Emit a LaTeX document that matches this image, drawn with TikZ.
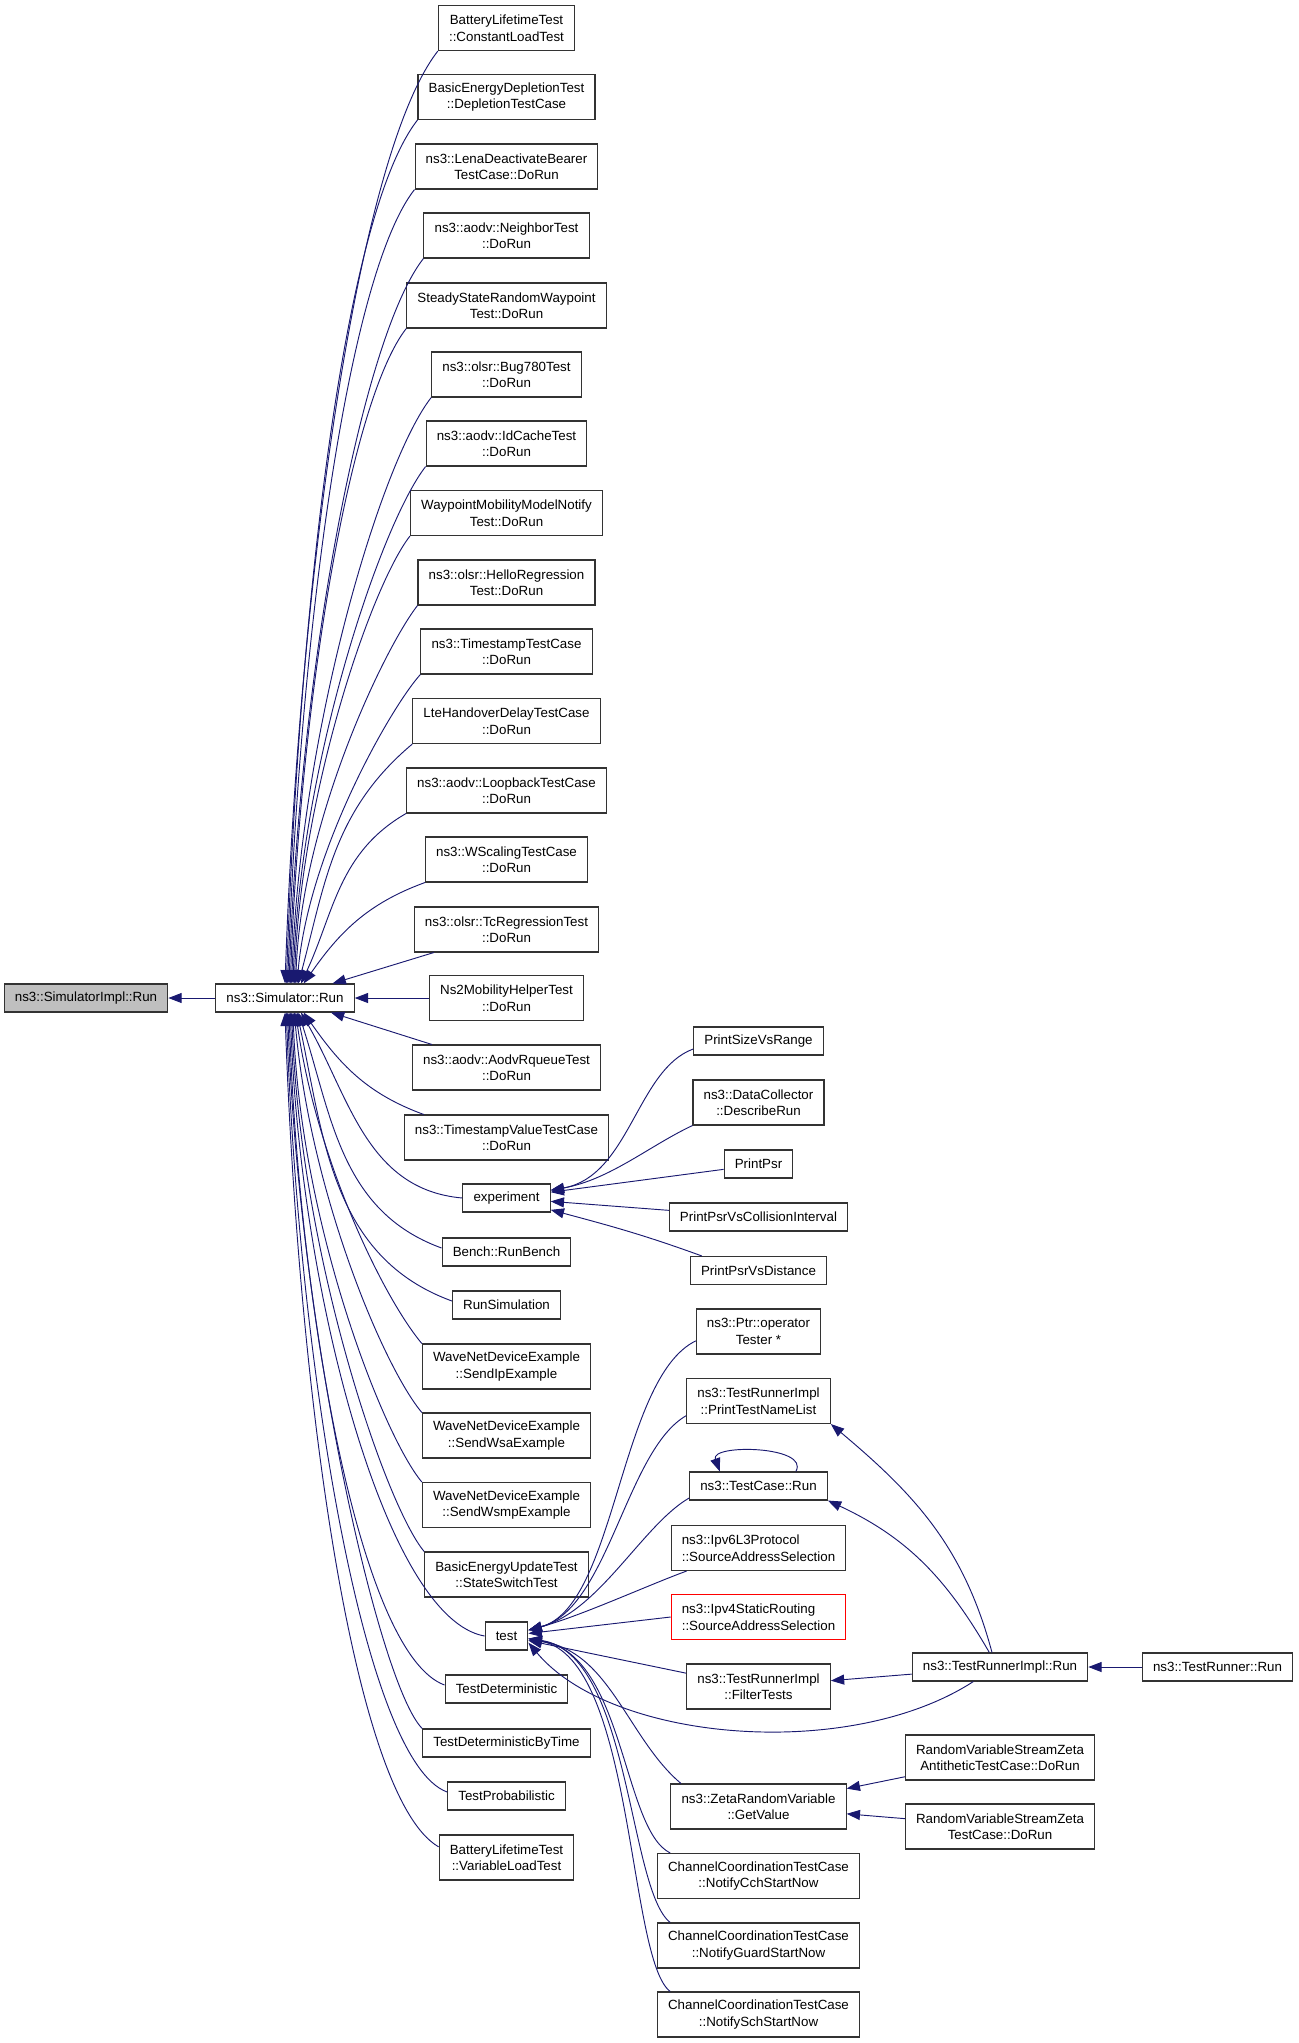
\documentclass[tikz,border=0pt]{standalone}
\usepackage{fontspec}
\setmainfont{Liberation Sans}
\usepackage{xcolor}
\usepackage{tikz}
\usetikzlibrary{arrows.meta}

\definecolor{edgeblue}{HTML}{191970}
\definecolor{focusgray}{HTML}{BFBFBF}

\begin{document}
\begin{tikzpicture}[x=0.75pt, y=0.75pt,
		fn/.style={draw=black!80, line width=0.8pt, rectangle, inner xsep=8pt, inner ysep=0pt, minimum height=21pt, font=\fontsize{10pt}{12.4pt}\selectfont, align=center},
		fntwo/.style={fn, minimum height=33.75pt},
		fnleft/.style={fntwo, align=left},
		calls/.style={draw=edgeblue, line width=0.7pt, {Triangle[length=10pt,width=7.5pt]}-}
		]
		\useasboundingbox (0,0) rectangle (1299,-2043);
		
		\node[fn, fill=focusgray] (simpl) at (86,-998) {ns3::SimulatorImpl::Run};
		\node[fn] (sr) at (285,-998) {ns3::Simulator::Run};
		
		\node[fntwo] (ct) at (506.5,-28) {BatteryLifetimeTest\\::ConstantLoadTest};
		\node[fntwo] (dep) at (506.5,-97) {BasicEnergyDepletionTest\\::DepletionTestCase};
		\node[fntwo] (lena) at (506.5,-166.5) {ns3::LenaDeactivateBearer\\TestCase::DoRun};
		\node[fntwo] (nbr) at (506.5,-235.5) {ns3::aodv::NeighborTest\\::DoRun};
		\node[fntwo] (ssrw) at (506.5,-305.5) {SteadyStateRandomWaypoint\\Test::DoRun};
		\node[fntwo] (bug) at (506.5,-374.5) {ns3::olsr::Bug780Test\\::DoRun};
		\node[fntwo] (idc) at (506.5,-443.5) {ns3::aodv::IdCacheTest\\::DoRun};
		\node[fntwo] (wmm) at (506.5,-513) {WaypointMobilityModelNotify\\Test::DoRun};
		\node[fntwo] (hello) at (506.5,-582.5) {ns3::olsr::HelloRegression\\Test::DoRun};
		\node[fntwo] (tstc) at (506.5,-651.5) {ns3::TimestampTestCase\\::DoRun};
		\node[fntwo] (lte) at (506.5,-721) {LteHandoverDelayTestCase\\::DoRun};
		\node[fntwo] (loop) at (506.5,-790.5) {ns3::aodv::LoopbackTestCase\\::DoRun};
		\node[fntwo] (wsc) at (506.5,-859.5) {ns3::WScalingTestCase\\::DoRun};
		\node[fntwo] (tcrt) at (506.5,-929.5) {ns3::olsr::TcRegressionTest\\::DoRun};
		\node[fntwo] (ns2) at (506.5,-998) {Ns2MobilityHelperTest\\::DoRun};
		\node[fntwo] (rq) at (506.5,-1067.5) {ns3::aodv::AodvRqueueTest\\::DoRun};
		\node[fntwo] (tsv) at (506.5,-1137.5) {ns3::TimestampValueTestCase\\::DoRun};
		\node[fn] (exp) at (506.5,-1198) {experiment};
		\node[fn] (bench) at (506.5,-1252) {Bench::RunBench};
		\node[fn] (runsim) at (506.5,-1305) {RunSimulation};
		\node[fntwo] (sendip) at (506.5,-1366.5) {WaveNetDeviceExample\\::SendIpExample};
		\node[fntwo] (sendwsa) at (506.5,-1435.5) {WaveNetDeviceExample\\::SendWsaExample};
		\node[fntwo] (sendwsmp) at (506.5,-1505) {WaveNetDeviceExample\\::SendWsmpExample};
		\node[fntwo] (ssw) at (506.5,-1574.5) {BasicEnergyUpdateTest\\::StateSwitchTest};
		\node[fn] (test) at (506.5,-1636) {test};
		\node[fn] (tdet) at (506.5,-1689) {TestDeterministic};
		\node[fn] (tdbt) at (506.5,-1743) {TestDeterministicByTime};
		\node[fn] (tprob) at (506.5,-1796) {TestProbabilistic};
		\node[fntwo] (vlt) at (506.5,-1857.5) {BatteryLifetimeTest\\::VariableLoadTest};
		
		\node[fn] (psvr) at (758.5,-1041) {PrintSizeVsRange};
		\node[fntwo] (dcr) at (758.5,-1102.5) {ns3::DataCollector\\::DescribeRun};
		\node[fn] (ppsr) at (758.5,-1164) {PrintPsr};
		\node[fn] (pci) at (758.5,-1217) {PrintPsrVsCollisionInterval};
		\node[fn] (pdist) at (758.5,-1270.5) {PrintPsrVsDistance};
		\node[fntwo] (ptr) at (758.5,-1331.5) {ns3::Ptr::operator\\Tester *};
		\node[fntwo] (ptnl) at (758.5,-1401) {ns3::TestRunnerImpl\\::PrintTestNameList};
		\node[fn] (tcase) at (758.5,-1486) {ns3::TestCase::Run};
		\node[fnleft] (ipsix) at (758.5,-1548) {ns3::Ipv6L3Protocol\\::SourceAddressSelection};
		\node[fnleft, draw=red] (ipfour) at (758.5,-1617) {ns3::Ipv4StaticRouting\\::SourceAddressSelection};
		\node[fntwo] (filt) at (758.5,-1686.5) {ns3::TestRunnerImpl\\::FilterTests};
		\node[fntwo] (zeta) at (758.5,-1806.5) {ns3::ZetaRandomVariable\\::GetValue};
		\node[fntwo] (cch) at (758.5,-1876) {ChannelCoordinationTestCase\\::NotifyCchStartNow};
		\node[fntwo] (guard) at (758.5,-1945.5) {ChannelCoordinationTestCase\\::NotifyGuardStartNow};
		\node[fntwo] (sch) at (758.5,-2014.5) {ChannelCoordinationTestCase\\::NotifySchStartNow};
		
		\node[fn] (trir) at (1000,-1667) {ns3::TestRunnerImpl::Run};
		\node[fntwo] (zanti) at (1000,-1757.5) {RandomVariableStreamZeta\\AntitheticTestCase::DoRun};
		\node[fntwo] (ztc) at (1000,-1826.5) {RandomVariableStreamZeta\\TestCase::DoRun};
		\node[fn] (trr) at (1217.5,-1667) {ns3::TestRunner::Run};
		
		\draw[calls] (simpl) -- (sr);
		
		\draw[calls] (sr.north) to[out=88, in=232, out distance=301pt, in distance=98pt] (ct.south west);
		\draw[calls] ([xshift=1pt]sr.north) to[out=88, in=232, out distance=279pt, in distance=91pt] (dep.south west);
		\draw[calls] ([xshift=2pt]sr.north) to[out=88, in=232, out distance=256pt, in distance=83pt] (lena.south west);
		\draw[calls] ([xshift=3pt]sr.north) to[out=88, in=232, out distance=234pt, in distance=76pt] (nbr.south west);
		\draw[calls] ([xshift=4pt]sr.north) to[out=88, in=232, out distance=212pt, in distance=69pt] (ssrw.south west);
		\draw[calls] ([xshift=5pt]sr.north) to[out=88, in=232, out distance=189pt, in distance=62pt] (bug.south west);
		\draw[calls] ([xshift=6pt]sr.north) to[out=88, in=232, out distance=167pt, in distance=54pt] (idc.south west);
		\draw[calls] ([xshift=7pt]sr.north) to[out=88, in=232, out distance=144pt, in distance=47pt] (wmm.south west);
		\draw[calls] ([xshift=8pt]sr.north) to[out=88, in=232, out distance=122pt, in distance=40pt] (hello.south west);
		\draw[calls] ([xshift=9pt]sr.north) to[out=85, in=228, out distance=100pt, in distance=33pt] (tstc.south west);
		\draw[calls] ([xshift=10pt]sr.north) to[out=75, in=220] (lte.south west);
		\draw[calls] ([xshift=12pt]sr.north) to[out=65, in=210] (loop.south west);
		\draw[calls] ([xshift=14pt]sr.north) to[out=55, in=200] (wsc.south west);
		\draw[calls] (sr) -- ([xshift=15pt]tcrt.south west);
		\draw[calls] (sr) -- (ns2);
		\draw[calls] (sr) -- ([xshift=15pt]rq.north west);
		\draw[calls] ([xshift=14pt]sr.south) to[out=-55, in=160] ([xshift=15pt]tsv.north west);
		\draw[calls] ([xshift=12pt]sr.south) to[out=-60, in=175] (exp.west);
		\draw[calls] ([xshift=10pt]sr.south) to[out=-72, in=160] ([yshift=3pt]bench.west);
		\draw[calls] ([xshift=9pt]sr.south) to[out=-78, in=160] ([yshift=3pt]runsim.west);
		\draw[calls] ([xshift=8pt]sr.south) to[out=-82, in=130, out distance=112pt, in distance=45pt] (sendip.north west);
		\draw[calls] ([xshift=7pt]sr.south) to[out=-85, in=130, out distance=135pt, in distance=45pt] (sendwsa.north west);
		\draw[calls] ([xshift=6pt]sr.south) to[out=-88, in=130, out distance=159pt, in distance=45pt] (sendwsmp.north west);
		\draw[calls] ([xshift=5pt]sr.south) to[out=-88, in=130, out distance=182pt, in distance=45pt] (ssw.north west);
		\draw[calls] ([xshift=4pt]sr.south) to[out=-88, in=170, out distance=211pt, in distance=75pt] (test.west);
		\draw[calls] ([xshift=3pt]sr.south) to[out=-88, in=160, out distance=227pt, in distance=67pt] ([yshift=3pt]tdet.west);
		\draw[calls] ([xshift=2pt]sr.south) to[out=-88, in=135, out distance=242pt, in distance=45pt] (tdbt.north west);
		\draw[calls] ([xshift=1pt]sr.south) to[out=-88, in=160, out distance=263pt, in distance=67pt] ([yshift=3pt]tprob.west);
		\draw[calls] (sr.south) to[out=-88, in=150, out distance=281pt, in distance=75pt] ([yshift=8pt]vlt.west);
		
		\draw[calls] (exp) to[out=10, in=200, out distance=60pt, in distance=45pt] ([yshift=-6pt]psvr.west);
		\draw[calls] (exp) to[out=10, in=205, out distance=45pt, in distance=35pt] (dcr.south west);
		\draw[calls] (exp) -- ([yshift=-4pt]ppsr.west);
		\draw[calls] (exp) -- ([yshift=5pt]pci.west);
		\draw[calls] (exp) to[out=-15, in=160] ([xshift=9pt]pdist.north west);
		
		\draw[calls] (test) to[out=15, in=206, out distance=68pt, in distance=64pt] ([yshift=-7pt]ptr.west);
		\draw[calls] (test) to[out=15, in=210, out distance=62pt, in distance=52pt] ([yshift=-11pt]ptnl.west);
		\draw[calls] (test) to[out=15, in=210, out distance=55pt, in distance=40pt] ([yshift=-9pt]tcase.west);
		\draw[calls] (test) to[out=15, in=200, out distance=40pt, in distance=30pt] ([xshift=12pt]ipsix.south west);
		\draw[calls] (test) -- (ipfour.west);
		\draw[calls] (test) -- ([yshift=10pt]filt.west);
		\draw[calls] ([yshift=-5pt]test.east) to[out=-50, in=213, out distance=98pt, in distance=110pt] ([xshift=-20pt]trir.south);
		\draw[calls] ([yshift=-3pt]test.east) to[out=-7, in=140, out distance=61pt, in distance=52pt] ([xshift=8pt]zeta.north west);
		\draw[calls] ([yshift=-2pt]test.east) to[out=-9, in=154, out distance=73pt, in distance=40pt] ([xshift=10pt]cch.north west);
		\draw[calls] ([yshift=-2pt]test.east) to[out=-8, in=142, out distance=77pt, in distance=40pt] ([xshift=10pt]guard.north west);
		\draw[calls] ([yshift=-2pt]test.east) to[out=-11, in=143, out distance=81pt, in distance=40pt] ([xshift=10pt]sch.north west);
		
		\draw[calls] ([xshift=-29pt]tcase.north) to[out=110, in=60] ([xshift=28pt]tcase.north);
		\draw[calls] (ptnl.south east) to[out=-40, in=105] ([xshift=-6pt]trir.north);
		\draw[calls] (tcase.south east) to[out=-25, in=120] ([xshift=-8pt]trir.north);
		\draw[calls] (filt) -- (trir);
		\draw[calls] (trir) -- (trr);
		\draw[calls] (zeta) -- (zanti);
		\draw[calls] (zeta) -- (ztc);
		
\end{tikzpicture}
\end{document}
